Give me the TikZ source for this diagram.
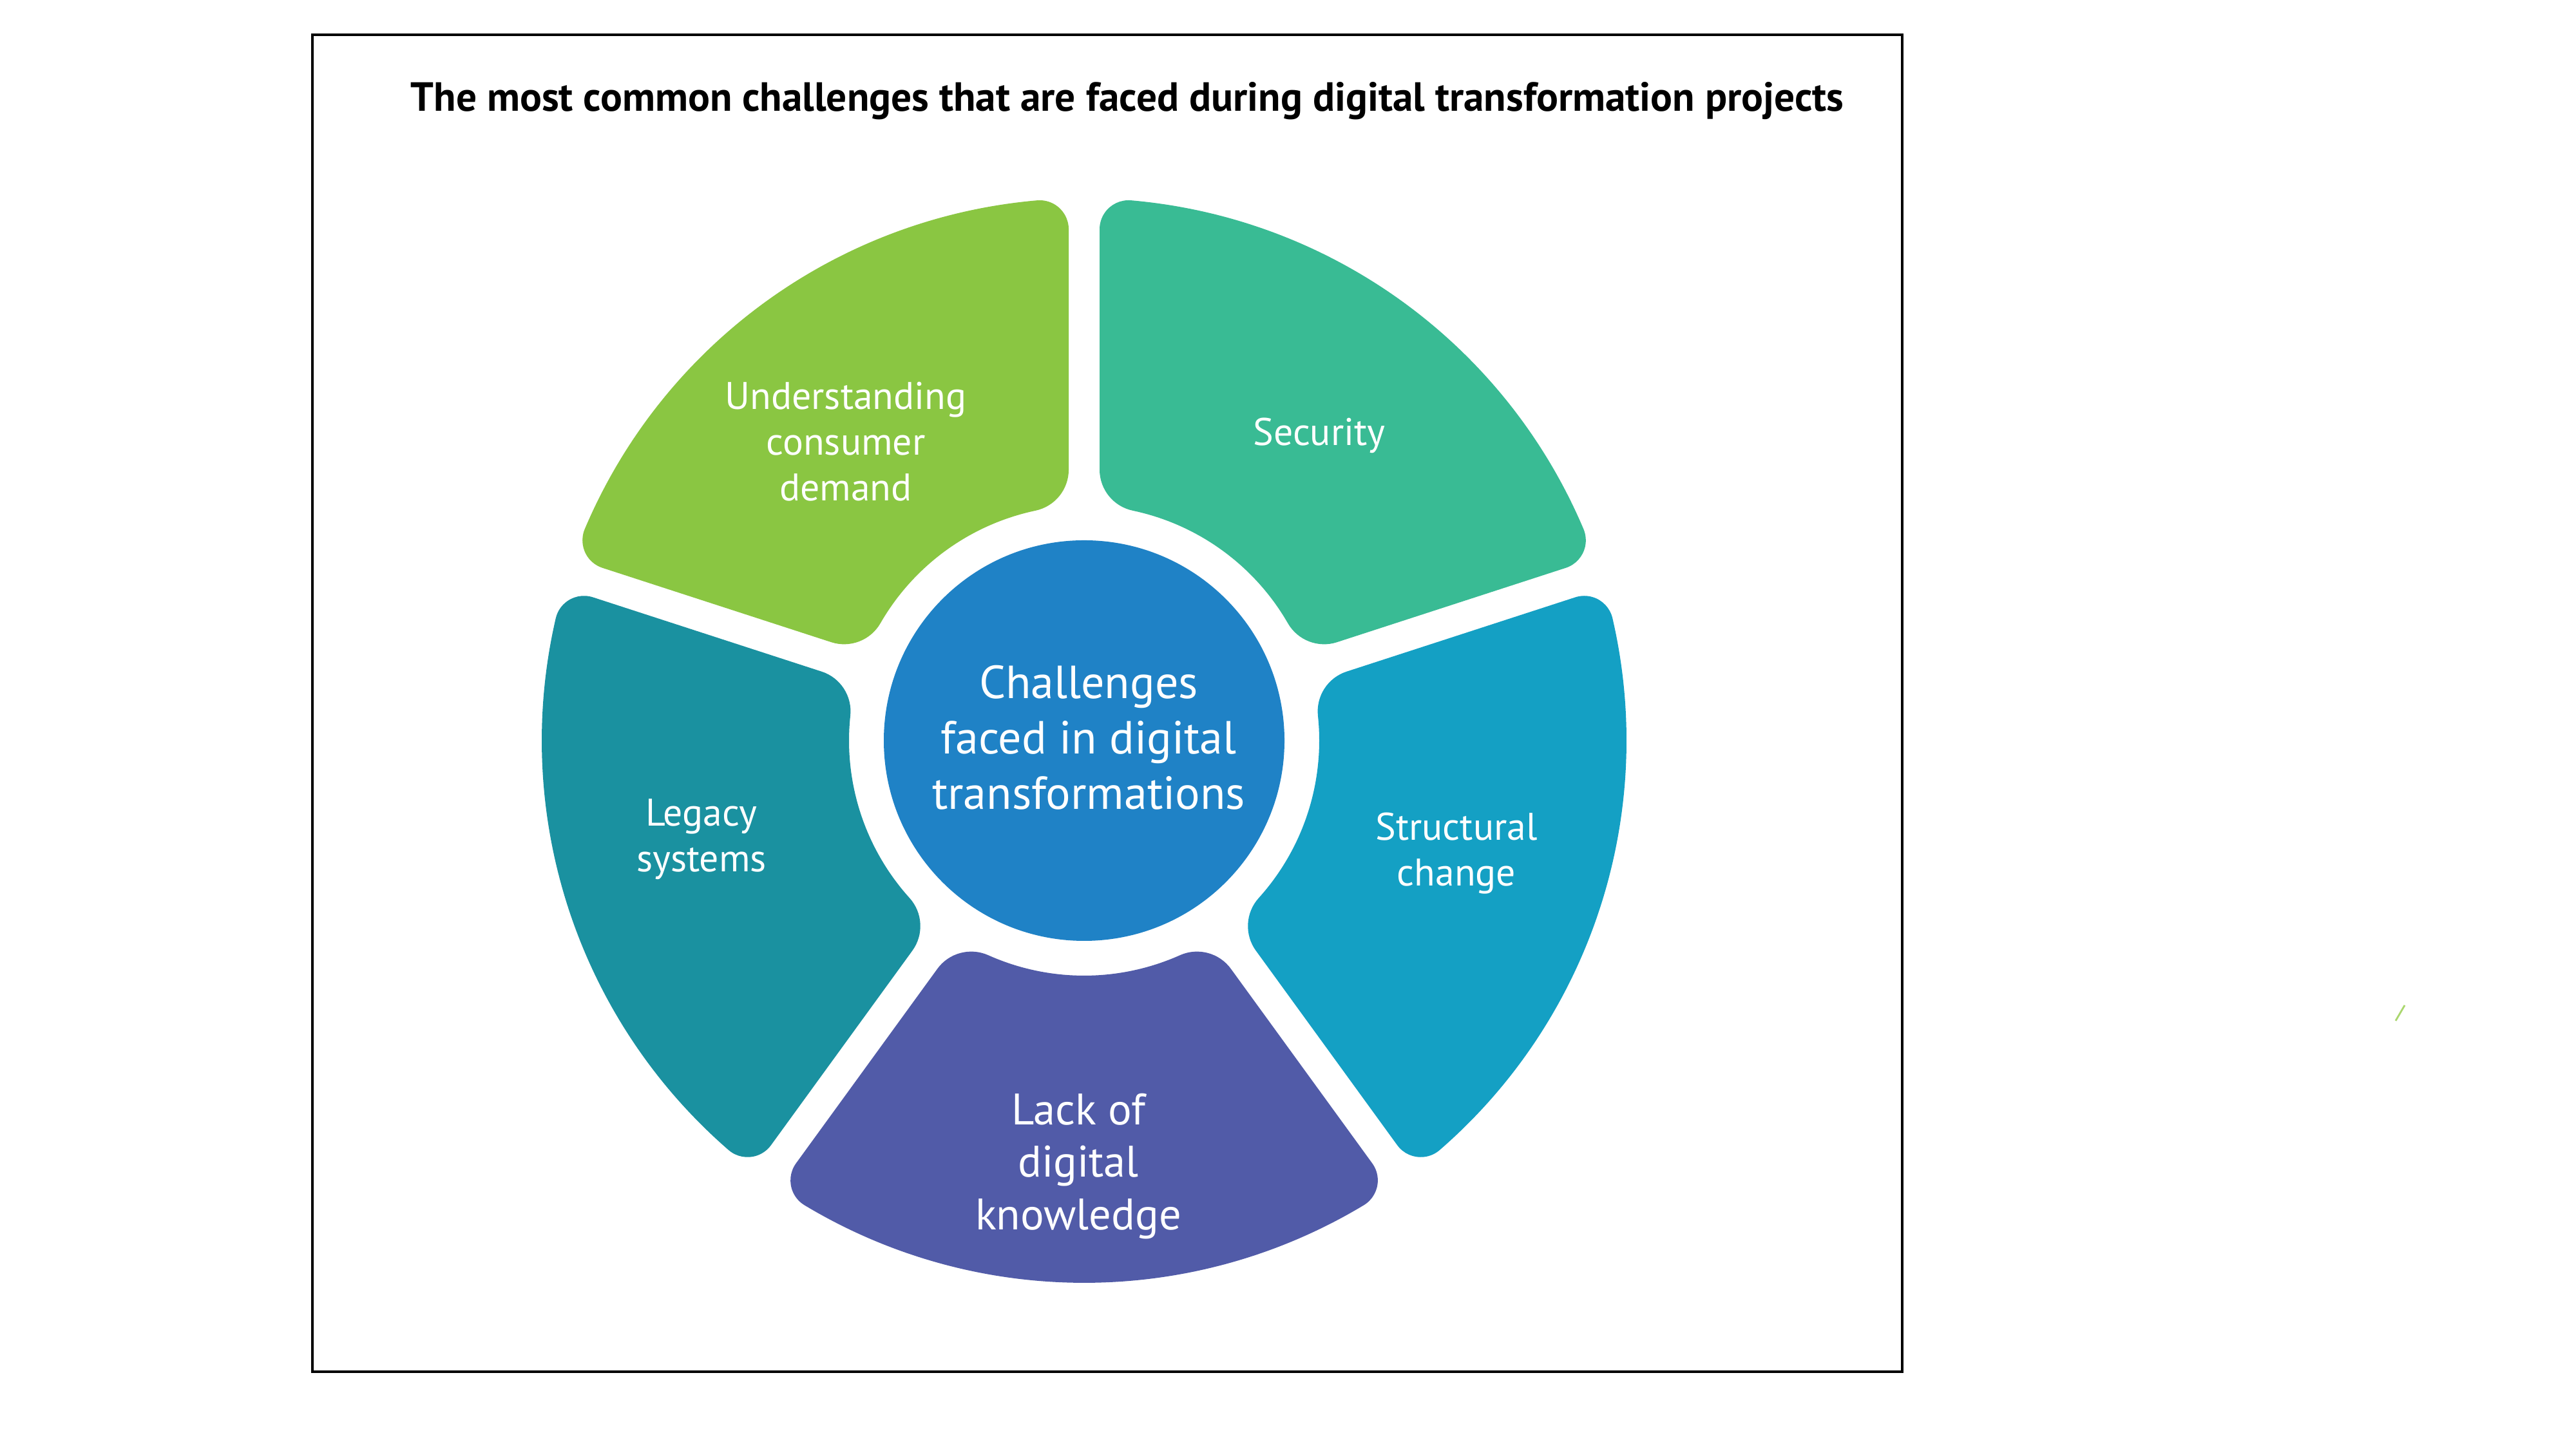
\documentclass[tikz,border=0pt]{standalone}
\usepackage{fontspec}
\setmainfont{PT Sans}
\definecolor{cgreen}{RGB}{138,198,66}
\definecolor{csec}{RGB}{57,187,148}
\definecolor{cstruct}{RGB}{20,160,196}
\definecolor{cpurple}{RGB}{81,91,168}
\definecolor{clegacy}{RGB}{26,145,160}
\definecolor{ccenter}{RGB}{31,130,198}
\definecolor{cmark}{RGB}{170,215,110}
\newcommand{\wheelseg}[2]{%
 \fill[#2] (#1+\bli:\dli) -- (#1+\blo:\dlo)
   arc[start angle=#1-90, end angle=#1+\alo, radius=\ro]
   arc[start angle=#1+\alo, end angle=#1+72-\alo, radius=\Ro]
   arc[start angle=#1+72-\alo, end angle=#1+162, radius=\ro]
   -- (#1+72-\bli:\dli)
   arc[start angle=#1+162, end angle=#1+252-\ali, radius=\ri]
   arc[start angle=#1+72-\ali, end angle=#1+\ali, radius=\Ri]
   arc[start angle=#1+\ali+180, end angle=#1+270, radius=\ri]
   -- cycle;}
\begin{document}
\begin{tikzpicture}[
  seglabel/.style={text=white, align=center, font=\fontsize{17}{20.2}\selectfont},
  biglabel/.style={text=white, align=center, font=\fontsize{19.5}{23.3}\selectfont},
  centerlabel/.style={text=white, align=center, font=\fontsize{20.5}{24.5}\selectfont}]
\useasboundingbox (0,0) rectangle (39.99,22.5);
\fill[white] (0,0) rectangle (39.99,22.5);
\draw[line width=1.2pt] (4.85,1.20) rectangle (29.53,21.96);
\node[anchor=base, font=\bfseries\fontsize{18}{21}\selectfont] (title) at (17.50,20.77)
  {The most common challenges that are faced during digital transformation projects};
\pgfmathsetmacro{\Ro}{8.42}
\pgfmathsetmacro{\Ri}{3.65}
\pgfmathsetmacro{\gp}{0.24}
\pgfmathsetmacro{\ro}{0.45}
\pgfmathsetmacro{\ri}{0.65}
\pgfmathsetmacro{\ao}{sqrt((\Ro-\ro)^2-(\gp+\ro)^2)}
\pgfmathsetmacro{\ai}{sqrt((\Ri+\ri)^2-(\gp+\ri)^2)}
\pgfmathsetmacro{\alo}{atan((\gp+\ro)/\ao)}
\pgfmathsetmacro{\ali}{atan((\gp+\ri)/\ai)}
\pgfmathsetmacro{\blo}{atan(\gp/\ao)}
\pgfmathsetmacro{\bli}{atan(\gp/\ai)}
\pgfmathsetmacro{\dlo}{sqrt(\ao^2+\gp^2)}
\pgfmathsetmacro{\dli}{sqrt(\ai^2+\gp^2)}
\begin{scope}[shift={(16.83,11.00)}]
  \wheelseg{90}{cgreen}
  \wheelseg{162}{clegacy}
  \wheelseg{234}{cpurple}
  \wheelseg{-54}{cstruct}
  \wheelseg{18}{csec}
  \fill[ccenter] (0,0) circle[radius=3.11];
\end{scope}
\node[centerlabel] (hub) at (16.90,11.05) {Challenges\\faced in digital\\transformations};
\node[seglabel] (demand) at (13.13,15.64) {Understanding\\consumer\\demand};
\node[seglabel] (security) at (20.48,15.74) {Security};
\node[seglabel] (legacy) at (10.89,9.47) {Legacy\\systems};
\node[seglabel] (struct) at (22.61,9.25) {Structural\\change};
\node[biglabel] (lack) at (16.74,4.39) {Lack of\\digital\\knowledge};
\coordinate (m1) at (37.19,6.65);
\coordinate (m2) at (37.33,6.89);
\draw[cmark, line width=0.8pt] (m1) -- (m2);
\end{tikzpicture}
\end{document}
